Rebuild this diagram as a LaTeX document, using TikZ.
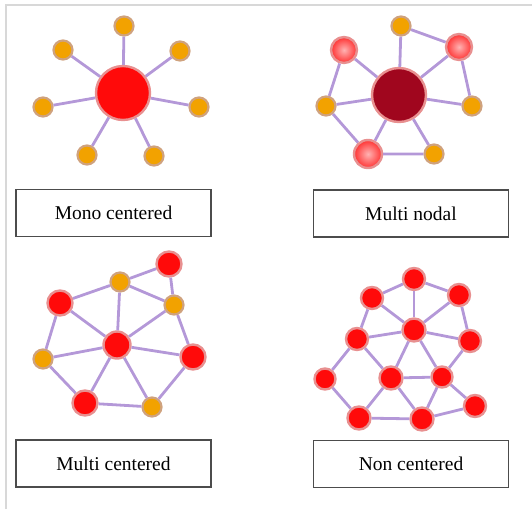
\documentclass[tikz,border=0pt]{standalone}
\usepackage{fontspec}
\setmainfont{Liberation Serif}
\definecolor{lilla}{HTML}{B498D8}
\definecolor{arancio}{HTML}{F2A200}
\definecolor{bordoarancio}{HTML}{CFA27E}
\definecolor{rosso}{HTML}{FF0A0A}
\definecolor{bordorosso}{HTML}{E89090}
\definecolor{bordeaux}{HTML}{A0061E}
\definecolor{cornice}{HTML}{D8D8D8}
\tikzset{
  link/.style={draw=lilla,line width=2.8pt},
  sat/.style={circle,inner sep=0pt,minimum size=19pt,fill=arancio,draw=bordoarancio,line width=2.2pt},
  hub/.style={circle,inner sep=0pt,fill=rosso,draw=bordorosso,line width=2.4pt},
  pinknode/.style={circle,inner sep=0pt,minimum size=26pt,draw=bordorosso,line width=2.4pt,
    shading=radial,inner color=red!30!white,outer color=red!80!white},
  caption/.style={draw=black!70,line width=1.3pt,minimum width=195pt,minimum height=47pt,
    font=\fontsize{19.5}{21}\selectfont}
}
\begin{document}
\begin{tikzpicture}[x=1pt,y=-1pt]
  \useasboundingbox (0,0) rectangle (532,509);
  % Cornice
  \draw[cornice,line width=2pt] (6,509) -- (6,5) -- (532,5);

  % Mono centered
  \node[hub,minimum size=54pt] (m0) at (123,93) {};
  \node[sat] (m1) at (124,26) {};
  \node[sat] (m2) at (180,51) {};
  \node[sat] (m3) at (199,107) {};
  \node[sat] (m4) at (154,156) {};
  \node[sat] (m5) at (87,155) {};
  \node[sat] (m6) at (43,107) {};
  \node[sat] (m7) at (63,50) {};
  \foreach \i in {1,...,7}
    \draw[link] (m0) -- (m\i);
  \node[caption] (capA) at (113.5,213) {Mono centered};

  % Multi nodal
  \node[hub,fill=bordeaux,minimum size=54pt] (n0) at (399,95) {};
  \node[sat] (n1) at (401,26) {};
  \node[pinknode] (n2) at (459,47) {};
  \node[sat] (n3) at (472,106) {};
  \node[sat] (n4) at (434,154) {};
  \node[pinknode,minimum size=28pt] (n5) at (368,154) {};
  \node[sat] (n6) at (326,106) {};
  \node[pinknode] (n7) at (344,50) {};
  \foreach \i in {1,...,7}
    \draw[link] (n0) -- (n\i);
  \draw[link] (n1) -- (n2) -- (n3);
  \draw[link] (n7) -- (n6) -- (n5) -- (n4);
  \node[caption] (capB) at (411,213.5) {Multi nodal};

  % Multi centered
  \node[hub,minimum size=27pt] (c0) at (117,345) {};
  \node[sat] (c1) at (120,282) {};
  \node[hub,minimum size=25pt] (c2) at (169,264) {};
  \node[sat] (c3) at (174,305) {};
  \node[hub,minimum size=25pt] (c4) at (193,357) {};
  \node[sat] (c5) at (152,407) {};
  \node[hub,minimum size=25pt] (c6) at (85,403) {};
  \node[sat] (c7) at (43,359) {};
  \node[hub,minimum size=25pt] (c8) at (60,303) {};
  \foreach \i in {1,3,4,5,6,7,8}
    \draw[link] (c0) -- (c\i);
  \draw[link] (c8) -- (c1) -- (c2) -- (c3) -- (c4) -- (c5) -- (c6) -- (c7) -- (c8);
  \draw[link] (c1) -- (c3);
  \node[caption] (capC) at (113.5,463.5) {Multi centered};

  % Non centered
  \node[hub,minimum size=22pt] (k1) at (414,279) {};
  \node[hub,minimum size=22pt] (k2) at (372,298) {};
  \node[hub,minimum size=22pt] (k3) at (459,295) {};
  \node[hub,minimum size=23pt] (k4) at (414,330) {};
  \node[hub,minimum size=22pt] (k5) at (357,339) {};
  \node[hub,minimum size=22pt] (k6) at (470,341) {};
  \node[hub,minimum size=21pt] (k7) at (325,379) {};
  \node[hub,minimum size=23pt] (k8) at (391,378) {};
  \node[hub,minimum size=21pt] (k9) at (442,377) {};
  \node[hub,minimum size=23pt] (k10) at (359,418) {};
  \node[hub,minimum size=23pt] (k11) at (422,419) {};
  \node[hub,minimum size=22pt] (k12) at (475,406) {};
  \foreach \a/\b in {1/2,1/3,1/4,2/4,3/4,2/5,3/6,4/5,4/6,4/8,4/9,5/7,5/8,6/9,
                     8/9,7/10,8/10,8/11,9/11,9/12,10/11,11/12}
    \draw[link] (k\a) -- (k\b);
  \node[caption] (capD) at (411,464) {Non centered};
\end{tikzpicture}
\end{document}
